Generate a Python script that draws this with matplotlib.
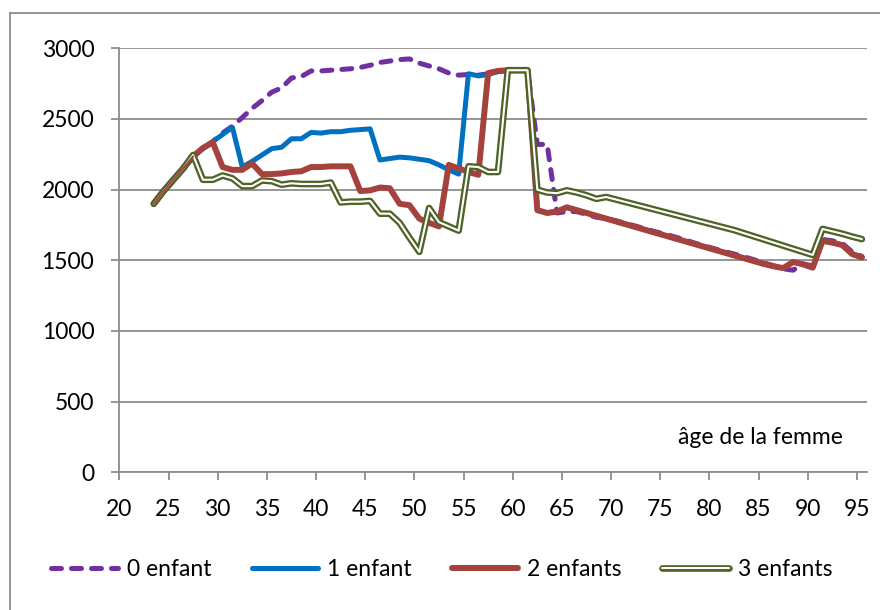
import matplotlib
matplotlib.use('Agg')
import matplotlib.pyplot as plt
import matplotlib.patheffects as pe
from matplotlib.lines import Line2D
import numpy as np

plt.rcParams['font.family'] = ['Lato', 'DejaVu Sans']

# age de la femme, 23 .. 95
ages = np.arange(23, 96)

zero = [1900, 1990, 2070, 2150, 2235, 2290, 2340, 2400, 2450, 2510,
        2575, 2630, 2690, 2720, 2790, 2800, 2840, 2840, 2845, 2850,
        2855, 2865, 2880, 2900, 2910, 2920, 2925, 2895, 2875, 2855,
        2825, 2810, 2815, 2810, 2820, 2835, 2845, 2845, 2845, 2320,
        2320, 1835, 1845, 1845, 1825, 1805, 1795, 1780, 1760, 1742,
        1722, 1702, 1685, 1665, 1645, 1622, 1602, 1582, 1562, 1545,
        1525, 1505, 1482, 1462, 1440, 1430, 1475, 1460, 1648, 1638,
        1620, 1560, 1528]

one = [1900, 1990, 2070, 2150, 2235, 2290, 2340, 2390, 2440, 2160,
       2200, 2245, 2290, 2300, 2360, 2360, 2405, 2400, 2410, 2410,
       2420, 2425, 2430, 2210, 2220, 2230, 2225, 2215, 2205, 2175,
       2140, 2110, 2820, 2805, 2815, 2835, 2845, 2845, 2845, 1855,
       1835, 1845, 1875, 1855, 1835, 1815, 1795, 1775, 1755, 1735,
       1715, 1695, 1675, 1655, 1635, 1615, 1595, 1575, 1555, 1535,
       1515, 1495, 1475, 1458, 1445, 1488, 1472, 1448, 1638, 1625,
       1608, 1545, 1520]

two = [1900, 1990, 2070, 2150, 2235, 2295, 2335, 2160, 2140, 2140,
       2185, 2110, 2110, 2115, 2125, 2130, 2160, 2160, 2165, 2165,
       2165, 1990, 1995, 2015, 2010, 1900, 1890, 1795, 1765, 1740,
       2175, 2150, 2125, 2105, 2825, 2840, 2845, 2845, 2845, 1855,
       1835, 1845, 1875, 1855, 1835, 1815, 1795, 1775, 1755, 1735,
       1715, 1695, 1675, 1655, 1635, 1615, 1595, 1575, 1555, 1535,
       1515, 1495, 1475, 1458, 1445, 1488, 1472, 1448, 1638, 1625,
       1608, 1545, 1520]

three = [1900, 1990, 2070, 2150, 2245, 2070, 2070, 2100, 2080, 2025,
         2025, 2065, 2060, 2035, 2045, 2040, 2040, 2040, 2050, 1910,
         1915, 1915, 1920, 1830, 1830, 1765, 1660, 1560, 1870, 1770,
         1740, 1710, 2165, 2160, 2125, 2125, 2845, 2845, 2845, 2000,
         1980, 1975, 1995, 1980, 1960, 1935, 1948, 1930, 1912, 1894,
         1876, 1858, 1840, 1822, 1804, 1786, 1768, 1750, 1732, 1714,
         1692, 1670, 1648, 1626, 1604, 1582, 1560, 1538, 1722, 1705,
         1688, 1668, 1650]

labels = ['0 enfant', '1 enfant', '2 enfants', '3 enfants']
grey = '#8C8C8C'
red = '#A5423E'
fs = 16.5

fig = plt.figure(figsize=(8.8, 6.1), dpi=100)
ax = fig.add_axes([0.1356, 0.2257, 0.8494, 0.6951])

# points sit between the ticks, as on the Excel category axis
x = ages + 0.5

ax.plot(x, zero, color='#7030A0', lw=3.6, ls=(0, (2.0, 2.0)),
        dash_capstyle='round', dash_joinstyle='round', label=labels[0])
ax.plot(x, one, color='#0070C0', lw=3.6, solid_capstyle='round',
        solid_joinstyle='round', label=labels[1])
ax.plot(x, two, color=red, lw=4.3, solid_capstyle='round',
        solid_joinstyle='round', label=labels[2])
ax.plot(x, three, color='white', lw=1.5, solid_capstyle='round',
        solid_joinstyle='round', label=labels[3],
        path_effects=[pe.Stroke(linewidth=4.8, foreground='#4F6228'), pe.Normal()])
# the double line is hollow: the red shows through where the curves coincide
ax.plot(x[:5], two[:5], color=red, lw=1.5, solid_capstyle='round')

ax.set_xlim(20, 96)
ax.set_ylim(0, 3000)
ax.set_xticks(range(20, 96, 5))
ax.set_yticks(range(0, 3001, 500))
ax.grid(axis='y', color=grey, lw=1.3)
ax.set_axisbelow(True)
for s in ['top', 'right']:
    ax.spines[s].set_visible(False)
for s in ['left', 'bottom']:
    ax.spines[s].set_color(grey)
    ax.spines[s].set_linewidth(1.3)
ax.tick_params(direction='out', length=6, width=1.3, color=grey, labelsize=fs)
ax.tick_params(axis='x', pad=13)
ax.tick_params(axis='y', pad=12)

ax.text(85.2, 243, 'âge de la femme', ha='center', va='center', fontsize=fs)

fig.legend(loc='center', bbox_to_anchor=(0.502, 0.067), ncol=4, frameon=False,
           fontsize=fs, handlelength=2.9, handletextpad=0.4, columnspacing=1.75)

# chart area border (only left and top edges are in the picture)
fig.add_artist(Line2D([10/880, 10/880], [0, 1 - 13/610], transform=fig.transFigure,
                      color=grey, lw=1.3))
fig.add_artist(Line2D([10/880, 1], [1 - 13/610, 1 - 13/610], transform=fig.transFigure,
                      color=grey, lw=1.3))

fig.savefig('out.png', dpi=100)
